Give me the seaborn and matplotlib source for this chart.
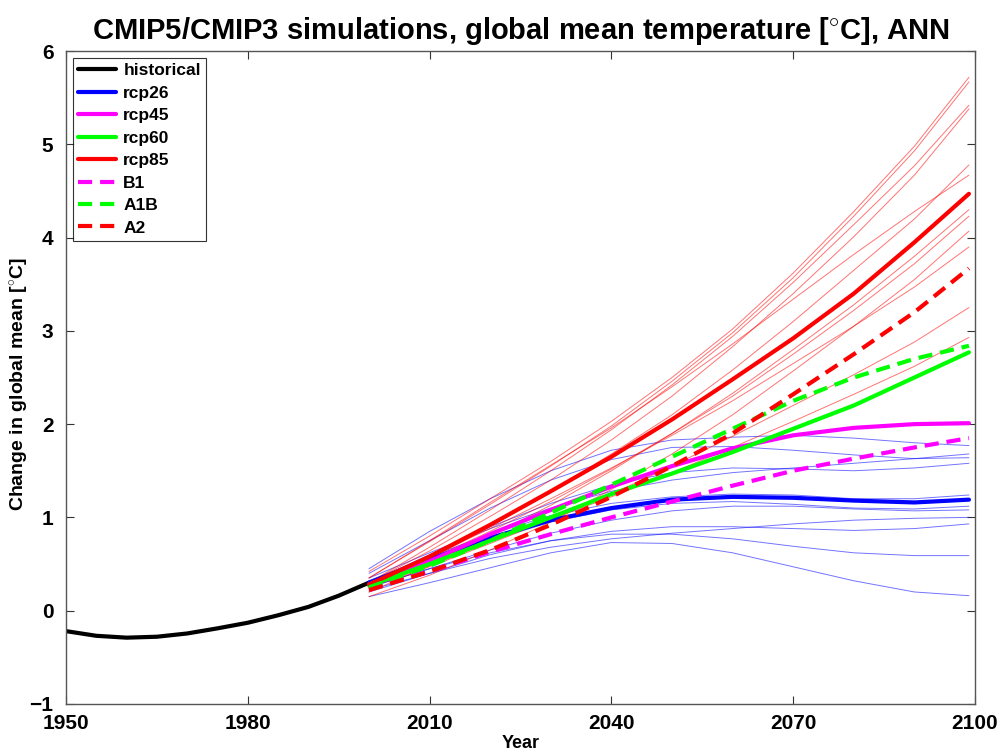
import numpy as np
import pandas as pd
import matplotlib
matplotlib.use("Agg")
import matplotlib.pyplot as plt
import seaborn as sns

# ---------------- data ----------------
hist_years = [1950, 1955, 1960, 1965, 1970, 1975, 1980, 1985, 1990, 1995, 2000]
historical = [-0.22, -0.27, -0.29, -0.28, -0.245, -0.19, -0.13, -0.05, 0.04, 0.16, 0.30]

proj_years = [2000, 2010, 2020, 2030, 2040, 2050, 2060, 2070, 2080, 2090, 2099]
rcp26 = [0.30, 0.55, 0.78, 0.97, 1.10, 1.19, 1.22, 1.21, 1.18, 1.16, 1.19]
rcp45 = [0.28, 0.53, 0.82, 1.08, 1.33, 1.55, 1.74, 1.88, 1.96, 2.00, 2.01]
rcp60 = [0.27, 0.50, 0.75, 1.00, 1.25, 1.47, 1.70, 1.95, 2.20, 2.50, 2.77]
rcp85 = [0.28, 0.58, 0.92, 1.28, 1.65, 2.05, 2.48, 2.92, 3.40, 3.95, 4.47]
B1 = [0.24, 0.42, 0.63, 0.82, 1.00, 1.17, 1.34, 1.50, 1.63, 1.75, 1.85]
A1B = [0.25, 0.48, 0.75, 1.05, 1.35, 1.65, 1.95, 2.25, 2.50, 2.70, 2.84]
A2 = [0.22, 0.42, 0.65, 0.92, 1.22, 1.55, 1.90, 2.32, 2.75, 3.20, 3.67]

rcp85_models = [
    [0.42, 0.80, 1.20, 1.60, 2.03, 2.50, 3.02, 3.62, 4.28, 4.98, 5.72],
    [0.35, 0.74, 1.14, 1.55, 1.98, 2.46, 2.98, 3.57, 4.23, 4.93, 5.67],
    [0.30, 0.68, 1.08, 1.50, 1.94, 2.42, 2.94, 3.52, 4.14, 4.77, 5.42],
    [0.30, 0.64, 1.01, 1.40, 1.83, 2.30, 2.83, 3.40, 4.01, 4.67, 5.38],
    [0.25, 0.55, 0.90, 1.28, 1.68, 2.10, 2.58, 3.10, 3.65, 4.20, 4.78],
    [0.35, 0.75, 1.16, 1.56, 1.96, 2.40, 2.86, 3.34, 3.82, 4.28, 4.67],
    [0.20, 0.48, 0.80, 1.13, 1.50, 1.90, 2.33, 2.80, 3.28, 3.80, 4.30],
    [0.28, 0.55, 0.85, 1.17, 1.52, 1.90, 2.30, 2.75, 3.22, 3.72, 4.23],
    [0.15, 0.38, 0.65, 0.95, 1.30, 1.68, 2.10, 2.57, 3.05, 3.55, 4.07],
    [0.30, 0.58, 0.88, 1.20, 1.53, 1.88, 2.25, 2.65, 3.05, 3.47, 3.90],
    [0.25, 0.47, 0.72, 0.98, 1.25, 1.55, 1.87, 2.20, 2.53, 2.88, 3.25],
    [0.30, 0.52, 0.75, 0.98, 1.22, 1.48, 1.75, 2.03, 2.32, 2.62, 2.93],
]
rcp26_models = [
    [0.45, 0.85, 1.20, 1.50, 1.72, 1.83, 1.86, 1.88, 1.85, 1.80, 1.77],
    [0.35, 0.62, 0.88, 1.10, 1.28, 1.40, 1.48, 1.53, 1.58, 1.63, 1.68],
    [0.40, 0.75, 1.10, 1.40, 1.62, 1.75, 1.76, 1.72, 1.67, 1.63, 1.64],
    [0.30, 0.60, 0.90, 1.15, 1.35, 1.48, 1.53, 1.52, 1.50, 1.53, 1.58],
    [0.32, 0.58, 0.82, 1.02, 1.15, 1.22, 1.25, 1.24, 1.20, 1.20, 1.24],
    [0.28, 0.52, 0.75, 0.95, 1.08, 1.15, 1.17, 1.14, 1.10, 1.09, 1.12],
    [0.25, 0.45, 0.65, 0.83, 0.97, 1.07, 1.12, 1.12, 1.09, 1.07, 1.08],
    [0.22, 0.40, 0.56, 0.68, 0.77, 0.83, 0.88, 0.93, 0.97, 0.99, 1.00],
    [0.20, 0.40, 0.60, 0.75, 0.85, 0.90, 0.90, 0.88, 0.86, 0.88, 0.93],
    [0.25, 0.45, 0.62, 0.75, 0.82, 0.82, 0.77, 0.69, 0.62, 0.59, 0.59],
    [0.15, 0.30, 0.46, 0.62, 0.73, 0.72, 0.62, 0.47, 0.32, 0.20, 0.16],
]

x_ticks = [1950, 1980, 2010, 2040, 2070, 2100]
y_ticks = [-1, 0, 1, 2, 3, 4, 5, 6]

# ---------------- style ----------------
sns.set_theme(style="white")
fam = ["Liberation Sans", "DejaVu Sans"]
plt.rcParams["font.family"] = fam
plt.rcParams["font.weight"] = "bold"
plt.rcParams["text.color"] = "black"
plt.rcParams["axes.labelcolor"] = "black"
plt.rcParams["xtick.color"] = "black"
plt.rcParams["ytick.color"] = "black"
plt.rcParams["mathtext.fontset"] = "custom"
plt.rcParams["mathtext.rm"] = "Liberation Sans:bold"
plt.rcParams["mathtext.it"] = "Liberation Sans:bold"
plt.rcParams["mathtext.bf"] = "Liberation Sans:bold"

fig = plt.figure(figsize=(10, 7.52), dpi=100)
ax = fig.add_axes([0.066, 0.064, 0.909, 0.868])

# thin model lines
rows = []
for scen, models in (("rcp26", rcp26_models), ("rcp85", rcp85_models)):
    for i, m in enumerate(models):
        for yr, v in zip(proj_years, m):
            rows.append({"year": yr, "value": v, "scenario": scen, "model": f"{scen}_{i}"})
thin = pd.DataFrame(rows)
sns.lineplot(data=thin, x="year", y="value", hue="scenario", units="model",
             estimator=None, palette={"rcp26": "#0000ff", "rcp85": "#ff0000"},
             lw=0.7, alpha=0.55, legend=False, ax=ax)

# thick lines
LW = 3.0
sns.lineplot(x=hist_years, y=historical, color="black", lw=LW, label="historical", ax=ax)
series = [
    ("rcp26", rcp26, "#0000ff", False),
    ("rcp45", rcp45, "#ff00ff", False),
    ("rcp60", rcp60, "#00ff00", False),
    ("rcp85", rcp85, "#ff0000", False),
    ("B1", B1, "#ff00ff", True),
    ("A1B", A1B, "#00ff00", True),
    ("A2", A2, "#ff0000", True),
]
for name, vals, col, dashed in series:
    l = sns.lineplot(x=proj_years, y=vals, color=col, lw=LW, label=name, ax=ax)
    if dashed:
        l.get_lines()[-1].set_dashes((3.4, 1.9))

ax.set_xlim(1950, 2100)
ax.set_ylim(-1, 6)
ax.set_xticks(x_ticks)
ax.set_yticks(y_ticks)
ax.set_xticklabels([str(t) for t in x_ticks], fontsize=15, fontweight="bold", color="black")
ax.set_yticklabels([str(t).replace("-", "\u2212") for t in y_ticks], fontsize=15,
                   fontweight="bold", color="black")
ax.tick_params(axis="x", direction="in", length=6, width=0.8, color="#333333",
               top=True, bottom=True, pad=7)
ax.tick_params(axis="y", direction="in", length=6, width=0.8, color="#333333",
               left=True, right=True, pad=9)
for s in ax.spines.values():
    s.set_color("#555555")
    s.set_linewidth(1.0)

ax.set_xlabel("Year", fontsize=13, fontweight="bold", labelpad=2, color="black")
ax.set_ylabel(r"Change in global mean [$^{\circ}$C]", fontsize=14, fontweight="bold", color="black")
ax.yaxis.set_label_coords(-0.038, 0.49)
ax.set_title(r"CMIP5/CMIP3 simulations, global mean temperature [$^{\circ}$C], ANN",
             fontsize=21, fontweight="bold", pad=9, color="black")

leg = ax.legend(loc="upper left", fontsize=12.5, frameon=True, fancybox=False,
                handlelength=2.2, handletextpad=0.4, labelspacing=0.42,
                borderpad=0.3, borderaxespad=0.4)
leg.get_frame().set_edgecolor("black")
leg.get_frame().set_linewidth(0.8)
for t in leg.get_texts():
    t.set_fontweight("bold")
    t.set_color("black")

fig.savefig("out.png", dpi=100)
